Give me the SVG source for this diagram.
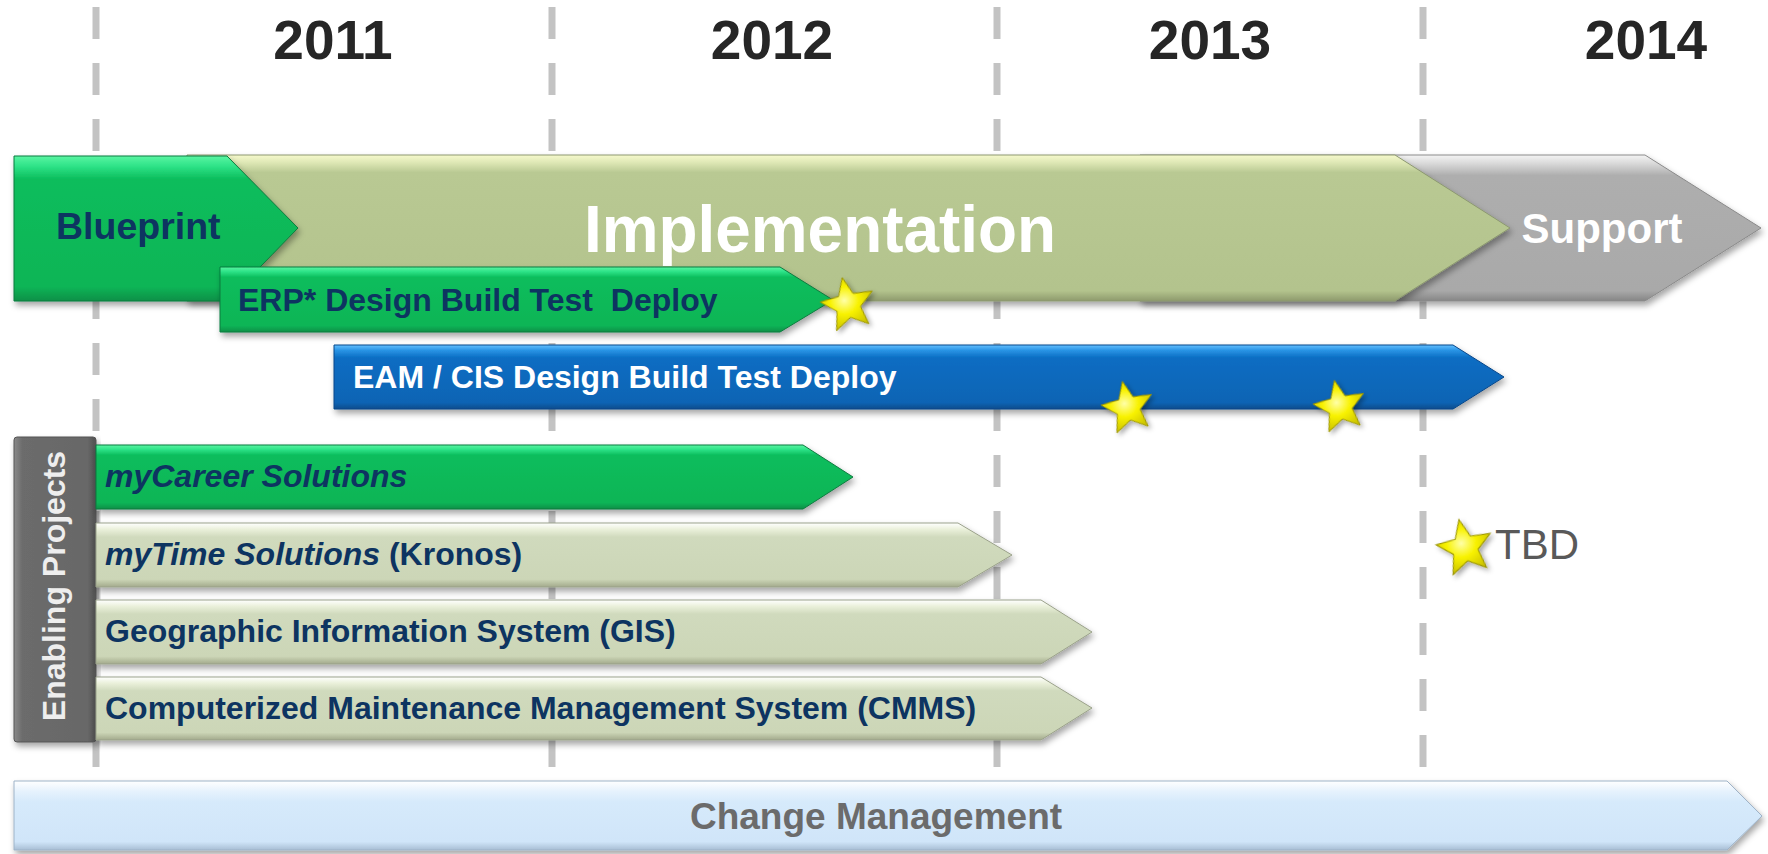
<svg xmlns="http://www.w3.org/2000/svg" xmlns:xlink="http://www.w3.org/1999/xlink" width="1768" height="854" viewBox="0 0 1768 854">
<style>
.t{font-family:"Liberation Sans",Arial,Helvetica,sans-serif;font-weight:bold}
.navy{fill:#0d3461}
.white{fill:#ffffff}
.year{font-size:55px;fill:#262626;text-anchor:middle}
.lbl{font-size:32px}
.grid{stroke:#c3c3c3;stroke-width:7;stroke-dasharray:32 24;fill:none}
.bar{filter:url(#sh)}
.star{fill:url(#gStar);stroke:#9a9400;stroke-width:1;filter:url(#shs)}
</style>
<defs>
<filter id="sh" x="-5%" y="-20%" width="110%" height="160%">
<feDropShadow dx="2" dy="4" stdDeviation="3" flood-color="#000" flood-opacity="0.35"/>
</filter>
<filter id="shs" x="-30%" y="-30%" width="160%" height="160%">
<feDropShadow dx="2" dy="3" stdDeviation="2.5" flood-color="#000" flood-opacity="0.35"/>
</filter>
<linearGradient id="gGreen" x1="0" y1="0" x2="0" y2="1">
<stop offset="0" stop-color="#5af5a2"/><stop offset="0.07" stop-color="#2ee388"/><stop offset="0.16" stop-color="#0bbd5c"/><stop offset="0.9" stop-color="#08b556"/><stop offset="1" stop-color="#079048"/>
</linearGradient>
<linearGradient id="gBlue" x1="0" y1="0" x2="0" y2="1">
<stop offset="0" stop-color="#63c0ff"/><stop offset="0.08" stop-color="#2a95e6"/><stop offset="0.2" stop-color="#0b6dc3"/><stop offset="0.9" stop-color="#0a64b4"/><stop offset="1" stop-color="#084c8c"/>
</linearGradient>
<linearGradient id="gSage" x1="0" y1="0" x2="0" y2="1">
<stop offset="0" stop-color="#ffffff"/><stop offset="0.1" stop-color="#eaf0da"/><stop offset="0.22" stop-color="#d0dabd"/><stop offset="0.88" stop-color="#ccd6b7"/><stop offset="1" stop-color="#a3aa8c"/>
</linearGradient>
<linearGradient id="gImpl" x1="0" y1="0" x2="0" y2="1">
<stop offset="0" stop-color="#f6f9cc"/><stop offset="0.05" stop-color="#dfe8b6"/><stop offset="0.12" stop-color="#b9c993"/><stop offset="0.93" stop-color="#b3c38d"/><stop offset="1" stop-color="#8e9a6c"/>
</linearGradient>
<linearGradient id="gSupp" x1="0" y1="0" x2="0" y2="1">
<stop offset="0" stop-color="#f4f4f4"/><stop offset="0.06" stop-color="#d8d8d8"/><stop offset="0.14" stop-color="#aeaeae"/><stop offset="0.93" stop-color="#a9a9a9"/><stop offset="1" stop-color="#858585"/>
</linearGradient>
<linearGradient id="gChange" x1="0" y1="0" x2="0" y2="1">
<stop offset="0" stop-color="#ffffff"/><stop offset="0.15" stop-color="#e6f2fd"/><stop offset="0.3" stop-color="#d6eafb"/><stop offset="0.88" stop-color="#d0e5f9"/><stop offset="1" stop-color="#a8bed4"/>
</linearGradient>
<linearGradient id="gEnab" x1="0" y1="0" x2="1" y2="0">
<stop offset="0" stop-color="#8a8a8a"/><stop offset="0.1" stop-color="#6c6c6c"/><stop offset="0.9" stop-color="#676767"/><stop offset="1" stop-color="#505050"/>
</linearGradient>
<radialGradient id="gStar" cx="0.45" cy="0.45" r="0.6">
<stop offset="0" stop-color="#ffffa8"/><stop offset="0.45" stop-color="#f8f200"/><stop offset="1" stop-color="#c9c000"/>
</radialGradient>
<polygon id="star" points="0,-28 7.41,-10.19 26.63,-8.65 11.98,3.89 16.46,22.65 0,12.6 -16.46,22.65 -11.98,3.89 -26.63,-8.65 -7.41,-10.19"/>
</defs>

<rect x="0" y="0" width="1768" height="854" fill="#ffffff"/>

<g id="gridlines">
<line class="grid" x1="96" y1="7" x2="96" y2="767"/>
<line class="grid" x1="552" y1="7" x2="552" y2="767"/>
<line class="grid" x1="997" y1="7" x2="997" y2="767"/>
<line class="grid" x1="1423" y1="7" x2="1423" y2="767"/>
</g>

<g id="years" class="t">
<text class="t year" x="333" y="59">2011</text>
<text class="t year" x="772" y="59">2012</text>
<text class="t year" x="1210" y="59">2013</text>
<text class="t year" x="1646" y="59">2014</text>
</g>

<g id="support">
<polygon class="bar" points="1140,155 1645,155 1761,228 1645,301 1140,301" fill="url(#gSupp)" stroke="#8a8a8a" stroke-width="1"/>
<text class="t white" x="1602" y="243" font-size="42" text-anchor="middle">Support</text>
</g>

<g id="implementation">
<polygon class="bar" points="187,155 1395,155 1510,228 1395,301 187,301" fill="url(#gImpl)" stroke="#8c9870" stroke-width="1"/>
<text class="t white" x="820" y="252" font-size="66" text-anchor="middle" textLength="472" lengthAdjust="spacingAndGlyphs">Implementation</text>
</g>

<g id="blueprint">
<polygon class="bar" points="14,156 227,156 298,228 227,301 14,301" fill="url(#gGreen)" stroke="#0a7a3e" stroke-width="1"/>
<text class="t navy" x="56" y="239" font-size="37.5">Blueprint</text>
</g>

<g id="erp">
<polygon class="bar" points="220,267 780,267 833,300 780,332 220,332" fill="url(#gGreen)" stroke="#0a7a3e" stroke-width="1"/>
<text class="t navy lbl" x="238" y="311" xml:space="preserve">ERP* Design Build Test  Deploy</text>
<use xlink:href="#star" href="#star" class="star" transform="translate(848,305) rotate(-12)"/>
</g>

<g id="eam-cis">
<polygon class="bar" points="334,345 1453,345 1504,377 1453,409 334,409" fill="url(#gBlue)" stroke="#07468a" stroke-width="1"/>
<text class="t white lbl" x="353" y="388">EAM / CIS Design Build Test Deploy</text>
<use xlink:href="#star" href="#star" class="star" transform="translate(1128,408) rotate(-12) scale(0.97)"/>
<use xlink:href="#star" href="#star" class="star" transform="translate(1340,407) rotate(-12) scale(0.97)"/>
</g>

<g id="enabling-projects">
<rect class="bar" x="14" y="437" width="82" height="305" rx="3" fill="url(#gEnab)" stroke="#555555" stroke-width="1"/>
<text class="t" x="65" y="586" font-size="32" fill="#eeeeee" text-anchor="middle" transform="rotate(-90 65 586)">Enabling Projects</text>
</g>

<g id="mycareer">
<polygon class="bar" points="96,445 803,445 853,477 803,509 96,509" fill="url(#gGreen)" stroke="#0a7a3e" stroke-width="1"/>
<text class="t navy lbl" x="105" y="487" font-style="italic">myCareer Solutions</text>
</g>

<g id="mytime">
<polygon class="bar" points="96,523 958,523 1012,555 958,587 96,587" fill="url(#gSage)" stroke="#9aa18a" stroke-width="1"/>
<text class="t navy lbl" x="105" y="565"><tspan font-style="italic">myTime Solutions</tspan> (Kronos)</text>
</g>

<g id="gis">
<polygon class="bar" points="96,600 1041,600 1092,632 1041,664 96,664" fill="url(#gSage)" stroke="#9aa18a" stroke-width="1"/>
<text class="t navy lbl" x="105" y="642">Geographic Information System (GIS)</text>
</g>

<g id="cmms">
<polygon class="bar" points="96,677 1041,677 1092,708 1041,740 96,740" fill="url(#gSage)" stroke="#9aa18a" stroke-width="1"/>
<text class="t navy lbl" x="105" y="719">Computerized Maintenance Management System (CMMS)</text>
</g>

<g id="tbd">
<use xlink:href="#star" href="#star" class="star" transform="translate(1465,548) rotate(-12) scale(1.04)"/>
<text x="1495" y="559" font-family="'Liberation Sans',Arial,sans-serif" font-size="42" fill="#595959">TBD</text>
</g>

<g id="change-management">
<polygon class="bar" points="14,781 1727,781 1762,816 1727,850 14,850" fill="url(#gChange)" stroke="#9eb3c8" stroke-width="1"/>
<text class="t" x="876" y="829" font-size="37" fill="#6b6b6b" text-anchor="middle">Change Management</text>
</g>
</svg>
